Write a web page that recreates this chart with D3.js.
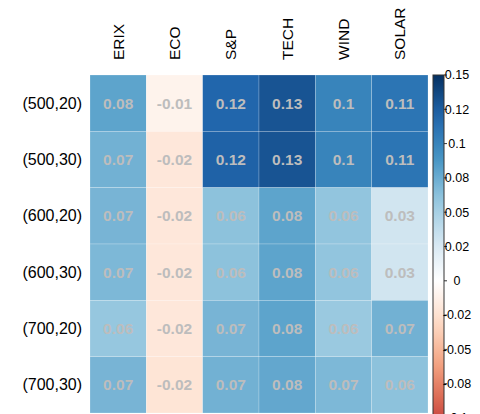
<!DOCTYPE html>
<meta charset="utf-8">
<style>
body { margin: 0; background: #fff; font-family: "Liberation Sans", Arial, sans-serif; }
.cell-label { font-weight: bold; fill: #bdbdbd; font-size: 15.5px; }
.row-label { font-size: 16px; fill: #000; }
.col-label { font-size: 15.5px; fill: #000; }
.bar-label { font-size: 12.5px; fill: #000; }
</style>
<body>
<script src="https://cdn.jsdelivr.net/npm/d3@7"></script>
<script>

var rowLabels = ["(500,20)", "(500,30)", "(600,20)", "(600,30)", "(700,20)", "(700,30)"];
var colLabels = ["ERIX", "ECO", "S&P", "TECH", "WIND", "SOLAR"];

// one array per column, top row first
var erix  = [0.080, 0.072, 0.070, 0.068, 0.058, 0.070];
var eco   = [-0.010, -0.020, -0.020, -0.020, -0.020, -0.022];
var sp    = [0.120, 0.122, 0.062, 0.062, 0.070, 0.072];
var tech  = [0.130, 0.130, 0.080, 0.080, 0.080, 0.078];
var wind  = [0.100, 0.100, 0.060, 0.060, 0.056, 0.068];
var solar = [0.110, 0.110, 0.030, 0.030, 0.072, 0.062];

var barTicks = [0.15, 0.125, 0.1, 0.075, 0.05, 0.025, 0, -0.025, -0.05, -0.075, -0.1];
var barTickLabels = ["0.15", "0.12", "0.1", "0.08", "0.05", "0.02", "0", "-0.02", "-0.05", "-0.08", "-0.1"];
var palette = ["#67001F", "#B2182B", "#D6604D", "#F4A582", "#FDDBC7", "#FFFFFF",
               "#D1E5F0", "#92C5DE", "#4393C3", "#2166AC", "#053061"];

var columns = [erix, eco, sp, tech, wind, solar];
var cells = [];
columns.forEach(function(col, j) {
  col.forEach(function(v, i) {
    cells.push({row: rowLabels[i], col: colLabels[j], value: v});
  });
});

var width = 480, height = 414;
var grid = {left: 90, top: 75, right: 428, bottom: 413};

var svg = d3.select("body").append("svg")
    .attr("width", width)
    .attr("height", height);

var x = d3.scaleBand()
    .domain(colLabels)
    .range([grid.left, grid.right]);

var y = d3.scaleBand()
    .domain(rowLabels)
    .range([grid.top, grid.bottom]);

var color = d3.scaleLinear()
    .domain(d3.range(11).map(function(i) { return -0.15 + i * 0.03; }))
    .range(palette)
    .interpolate(d3.interpolateRgb);

function fmt(v) { return String(+v.toFixed(2)); }

svg.append("g").selectAll("rect")
    .data(cells)
  .enter().append("rect")
    .attr("x", function(d) { return x(d.col); })
    .attr("y", function(d) { return y(d.row); })
    .attr("width", x.bandwidth())
    .attr("height", y.bandwidth())
    .attr("fill", function(d) { return color(d.value); })
    .attr("stroke", "rgba(255,255,255,0.35)")
    .attr("stroke-width", 0.6);

svg.append("g").selectAll("text")
    .data(cells)
  .enter().append("text")
    .attr("class", "cell-label")
    .attr("x", function(d) { return x(d.col) + x.bandwidth() / 2; })
    .attr("y", function(d) { return y(d.row) + y.bandwidth() / 2; })
    .attr("dy", "0.35em")
    .attr("text-anchor", "middle")
    .text(function(d) { return fmt(d.value); });

svg.append("g").selectAll("text")
    .data(rowLabels)
  .enter().append("text")
    .attr("class", "row-label")
    .attr("x", 82)
    .attr("y", function(d) { return y(d) + y.bandwidth() / 2; })
    .attr("dy", "0.35em")
    .attr("text-anchor", "end")
    .text(function(d) { return d; });

svg.append("g").selectAll("text")
    .data(colLabels)
  .enter().append("text")
    .attr("class", "col-label")
    .attr("transform", function(d) {
      return "translate(" + (x(d) + x.bandwidth() / 2) + ",60) rotate(-90)";
    })
    .attr("dy", "0.35em")
    .attr("text-anchor", "start")
    .text(function(d) { return d; });

// colour bar
var bar = {x: 433, w: 11, top: 75, bottom: 418};
var yBar = d3.scaleLinear()
    .domain([-0.1, 0.15])
    .range([bar.bottom, bar.top]);

var defs = svg.append("defs");
var grad = defs.append("linearGradient")
    .attr("id", "bar-grad")
    .attr("x1", 0).attr("y1", 1).attr("x2", 0).attr("y2", 0);
grad.selectAll("stop")
    .data(d3.range(0, 1.0001, 0.05))
  .enter().append("stop")
    .attr("offset", function(t) { return t; })
    .attr("stop-color", function(t) { return color(-0.1 + t * 0.25); });

svg.append("rect")
    .attr("x", bar.x)
    .attr("y", bar.top)
    .attr("width", bar.w)
    .attr("height", bar.bottom - bar.top)
    .attr("fill", "url(#bar-grad)")
    .attr("stroke", "#333")
    .attr("stroke-width", 1);

var ticks = svg.append("g").selectAll("g")
    .data(barTicks)
  .enter().append("g")
    .attr("transform", function(d) { return "translate(0," + yBar(d) + ")"; });

ticks.append("line")
    .attr("x1", bar.x + bar.w)
    .attr("x2", bar.x + bar.w + 3)
    .attr("stroke", "#333");

ticks.append("text")
    .attr("class", "bar-label")
    .attr("x", 457)
    .attr("dy", "0.35em")
    .attr("text-anchor", "middle")
    .text(function(d, i) { return barTickLabels[i]; });

</script>
